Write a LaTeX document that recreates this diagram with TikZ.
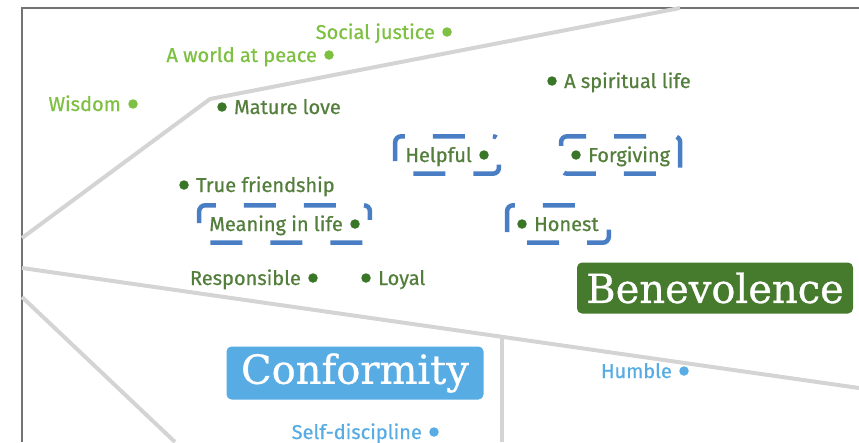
\documentclass[tikz,border=0pt]{standalone}
\usepackage{fontspec}
\setmainfont{Fira Sans}[FakeBold=0.7]
\newfontfamily\slabfont{DejaVu Serif}[FakeBold=0.8]
\usetikzlibrary{positioning, fit}
\definecolor{LeafGreen}{RGB}{125,192,66}
\definecolor{MossGreen}{RGB}{84,126,60}
\definecolor{DotGreen}{RGB}{58,118,40}
\definecolor{BoxGreen}{RGB}{70,122,45}
\definecolor{SkyBlue}{RGB}{88,172,228}
\definecolor{DashBlue}{RGB}{74,126,196}
\definecolor{LineGray}{RGB}{212,212,212}

\begin{document}
\begin{tikzpicture}[
  x=1pt, y=-1pt,
  font=\fontsize{20}{22}\selectfont,
  node distance=7pt,
  dot/.style={circle, fill=#1, inner sep=0pt, minimum size=9.5pt},
  lbl/.style={text=#1, inner sep=0pt, text height=14pt, text depth=0pt},
  hl/.style={draw=DashBlue, line width=4.5pt, dash pattern=on 32pt off 28pt, dash phase=32pt, rounded corners=6pt, inner xsep=10pt, inner ysep=11.5pt},
  title/.style={fill=#1, text=white, rounded corners=5pt, inner sep=0pt, font=\slabfont\fontsize{40}{40}\selectfont},
  divider/.style={draw=LineGray, line width=4pt, line join=round}
]
  \useasboundingbox (0,0) rectangle (859,442);

  % frame and region borders
  \draw[gray!90!black, line width=1.2pt] (22,442) -- (22,8) -- (859,8);
  \draw[divider] (22,238) -- (210,99) -- (680,8);
  \draw[divider] (22,268) -- (859,388);
  \draw[divider] (502,337) -- (502,442);
  \draw[divider] (22,297) -- (175,442);

  % universalism values
  \node[dot=LeafGreen] (justice) at (447,32) {};
  \node[lbl=LeafGreen, left=of justice] (justicet) {Social justice};
  \node[dot=LeafGreen] (peace) at (329,55) {};
  \node[lbl=LeafGreen, left=of peace] (peacet) {A world at peace};
  \node[dot=LeafGreen] (wisdom) at (133,104) {};
  \node[lbl=LeafGreen, left=of wisdom] (wisdomt) {Wisdom};

  % benevolence values
  \node[dot=DotGreen] (mature) at (222,107) {};
  \node[lbl=MossGreen, right=of mature] (maturet) {Mature love};
  \node[dot=DotGreen] (spirit) at (552,81) {};
  \node[lbl=MossGreen, right=of spirit] (spiritt) {A spiritual life};
  \node[dot=DotGreen] (helpful) at (484,155) {};
  \node[lbl=MossGreen, left=of helpful] (helpfult) {Helpful};
  \node[dot=DotGreen] (forgive) at (576,155) {};
  \node[lbl=MossGreen, right=of forgive] (forgivet) {Forgiving};
  \node[dot=DotGreen] (friend) at (184,185) {};
  \node[lbl=MossGreen, right=of friend] (friendt) {True friendship};
  \node[dot=DotGreen] (meaning) at (355,224) {};
  \node[lbl=MossGreen, left=of meaning] (meaningt) {Meaning in life};
  \node[dot=DotGreen] (honest) at (522,224) {};
  \node[lbl=MossGreen, right=of honest] (honestt) {Honest};
  \node[dot=DotGreen] (resp) at (313,278) {};
  \node[lbl=MossGreen, left=of resp] (respt) {Responsible};
  \node[dot=DotGreen] (loyal) at (366,278) {};
  \node[lbl=MossGreen, right=of loyal] (loyalt) {Loyal};

  % highlighted values
  \node[hl, fit=(helpfult)(helpful)] (helpfulbox) {};
  \node[hl, fit=(forgive)(forgivet)] (forgivebox) {};
  \node[hl, fit=(meaningt)(meaning)] (meaningbox) {};
  \node[hl, fit=(honest)(honestt)] (honestbox) {};

  % conformity values
  \node[dot=SkyBlue] (humble) at (684,371) {};
  \node[lbl=SkyBlue, left=of humble] (humblet) {Humble};
  \node[dot=SkyBlue] (selfd) at (434,432) {};
  \node[lbl=SkyBlue, left=of selfd] (selfdt) {Self-discipline};

  % value type labels
  \node[title=BoxGreen, minimum width=276pt, minimum height=51pt] (benev) at (715,288) {Benevolence};
  \node[title=SkyBlue, minimum width=257pt, minimum height=53pt] (conf) at (355,373) {Conformity};
\end{tikzpicture}
\end{document}
